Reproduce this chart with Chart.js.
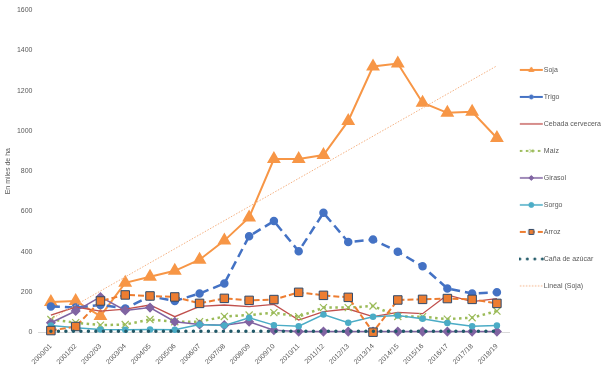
<!DOCTYPE html>
<html>
<head>
<meta charset="utf-8">
<script src="https://cdn.jsdelivr.net/npm/chart.js@4.4.1/dist/chart.umd.min.js"></script>
<style>
  html, body { margin: 0; padding: 0; background: #fff; }
  #wrap { width: 616px; height: 370px; position: relative; }
</style>
</head>
<body>
<div id="wrap"><canvas id="c"></canvas></div>
<script>
// campañas
const campanias = ['2000/01', '2001/02', '2002/03', '2003/04', '2004/05', '2005/06', '2006/07', '2007/08', '2008/09', '2009/10',
    '2010/11', '2011/12', '2012/13', '2013/14', '2014/15', '2015/16', '2016/17', '2017/18', '2018/19'];

// superficie, miles de ha
const soja    = [150, 155, 80, 245, 275, 305, 360, 455, 570, 860, 860, 880, 1050, 1320, 1335, 1140, 1090, 1095, 965];
const trigo   = [128, 122, 135, 118, 178, 155, 192, 242, 477, 552, 402, 593, 448, 460, 400, 327, 217, 192, 198];
const cebada  = [85, 125, 105, 115, 135, 77, 128, 135, 127, 138, 60, 102, 115, 77, 98, 92, 185, 152, 167];
const maiz    = [63, 47, 35, 38, 63, 52, 52, 78, 85, 97, 77, 122, 122, 130, 78, 77, 65, 72, 105];
const girasol = [47, 105, 175, 108, 122, 52, 38, 35, 52, 10, 3, 3, 3, 3, 3, 3, 3, 3, 3];
const sorgo   = [33, 22, 13, 12, 13, 12, 38, 33, 72, 35, 30, 88, 47, 77, 83, 67, 45, 30, 33];
const arroz   = [8, 28, 155, 185, 180, 175, 143, 168, 158, 162, 198, 183, 173, 0, 160, 163, 167, 163, 143];
const cania   = [5, 5, 5, 5, 5, 5, 5, 5, 5, 5, 5, 5, 5, 5, 5, 5, 5, 5, 5];

const yTicks = [0, 200, 400, 600, 800, 1000, 1200, 1400, 1600];

// tendencia lineal de la soja (mínimos cuadrados, como la línea de Excel)
function lineal(vals) {
    const n = vals.length;
    const mx = (n - 1) / 2;
    const my = vals.reduce((a, b) => a + b, 0) / n;
    let num = 0, den = 0;
    vals.forEach((v, i) => { num += (i - mx) * (v - my); den += (i - mx) * (i - mx); });
    const m = num / den;
    return vals.map((v, i) => my + m * (i - mx));
}

const FONT = { family: 'Liberation Sans, Arial, sans-serif', size: 7 };
const GRIS = '#595959';

const series = [
    { label: 'Soja', data: soja, borderColor: '#F79646', backgroundColor: '#F79646', borderWidth: 2,
      pointStyle: 'triangle', pointRadius: 6, mk: 3 },
    { label: 'Trigo', data: trigo, borderColor: '#4472C4', backgroundColor: '#4472C4', borderWidth: 2.5,
      borderDash: [9, 5], pointStyle: 'circle', pointRadius: 3, mk: 2 },
    { label: 'Cebada cervecera', data: cebada, borderColor: '#C0504D', backgroundColor: '#C0504D', borderWidth: 1.3,
      pointRadius: 0, mk: 0 },
    { label: 'Maíz', data: maiz, borderColor: '#9BBB59', backgroundColor: '#9BBB59', borderWidth: 2.5,
      borderDash: [2.5, 3.5], pointStyle: 'crossRot', pointRadius: 5, pointBorderWidth: 1.2, mk: 2.5 },
    { label: 'Girasol', data: girasol, borderColor: '#8064A2', backgroundColor: '#8064A2', borderWidth: 1.5,
      pointStyle: 'rectRot', pointRadius: 4, mk: 2.5 },
    { label: 'Sorgo', data: sorgo, borderColor: '#4BACC6', backgroundColor: '#4BACC6', borderWidth: 1.5,
      pointStyle: 'circle', pointRadius: 2.5, mk: 2.5 },
    { label: 'Arroz', data: arroz, borderColor: '#ED7D31', backgroundColor: '#ED7D31', borderWidth: 2,
      borderDash: [6, 3], pointStyle: 'rect', pointRadius: 6, pointBorderColor: '#2F4A6B', pointBorderWidth: 1,
      mk: 3.5 },
    { label: 'Caña de azúcar', data: cania, borderColor: '#215968', backgroundColor: '#215968', borderWidth: 3.5,
      borderDash: [0, 7.5], borderCapStyle: 'round', pointRadius: 0, mk: 0 },
    { label: 'Lineal (Soja)', data: lineal(soja), borderColor: '#F4B183', backgroundColor: '#F4B183', borderWidth: 1,
      borderDash: [1.5, 1.5], pointRadius: 0, mk: 0 },
];

// muestra de leyenda: línea + marcador chico
function muestra(s) {
    const cv = document.createElement('canvas');
    cv.width = 32; cv.height = 12;
    const g = cv.getContext('2d');
    g.strokeStyle = s.borderColor;
    g.lineWidth = s.borderCapStyle === 'round' ? 3 : Math.min(s.borderWidth, 2);
    g.lineCap = s.borderCapStyle || 'butt';
    g.setLineDash(s.borderDash || []);
    g.beginPath(); g.moveTo(1, 6); g.lineTo(24, 6); g.stroke();
    g.setLineDash([]);
    if (s.mk) {
        g.fillStyle = s.backgroundColor;
        g.strokeStyle = s.pointBorderColor || s.borderColor;
        g.lineWidth = 1;
        Chart.helpers.drawPoint(g, { pointStyle: s.pointStyle, radius: s.mk, borderWidth: 1 }, 12.5, 6);
    }
    return cv;
}
const muestras = series.map(muestra);

const datasets = series.map((s, i) => {
    const d = Object.assign({}, s, { fill: false, tension: 0, order: series.length - i, clip: false });
    delete d.mk;
    return d;
});

new Chart(document.getElementById('c'), {
    type: 'line',
    data: { labels: campanias, datasets },
    options: {
        responsive: true,
        maintainAspectRatio: false,
        animation: false,
        layout: { padding: { top: 7, right: 5, bottom: 2, left: 4 } },
        plugins: {
            tooltip: { enabled: false },
            legend: {
                position: 'right',
                align: 'start',
                // título vacío sólo para bajar la columna de la leyenda
                title: { display: true, text: ' ', font: FONT, padding: { top: 31, bottom: 0 } },
                labels: {
                    usePointStyle: true,
                    pointStyleWidth: 11,
                    padding: 20,
                    color: GRIS,
                    font: FONT,
                    sort: (a, b) => a.datasetIndex - b.datasetIndex,
                    generateLabels: (chart) => {
                        const items = Chart.defaults.plugins.legend.labels.generateLabels(chart);
                        items.forEach((it) => { it.pointStyle = muestras[it.datasetIndex]; });
                        return items;
                    },
                },
            },
        },
        scales: {
            x: {
                offset: true,
                grid: { display: false },
                border: { display: true, color: '#D9D9D9', width: 1 },
                ticks: { color: GRIS, font: FONT, minRotation: 45, maxRotation: 45, autoSkip: false, padding: 2 },
            },
            y: {
                min: 0,
                max: 1600,
                afterBuildTicks: (axis) => { axis.ticks = yTicks.map((v) => ({ value: v })); },
                afterFit: (axis) => { axis.width = 34.5; },
                grid: { display: false, drawTicks: false },
                border: { display: false },
                ticks: { color: GRIS, font: FONT, padding: 6, callback: (v) => String(v) },
                title: { display: true, text: 'En miles de ha', color: GRIS, font: FONT, padding: { top: 0, bottom: 6 } },
            },
        },
    },
});
</script>
</body>
</html>
